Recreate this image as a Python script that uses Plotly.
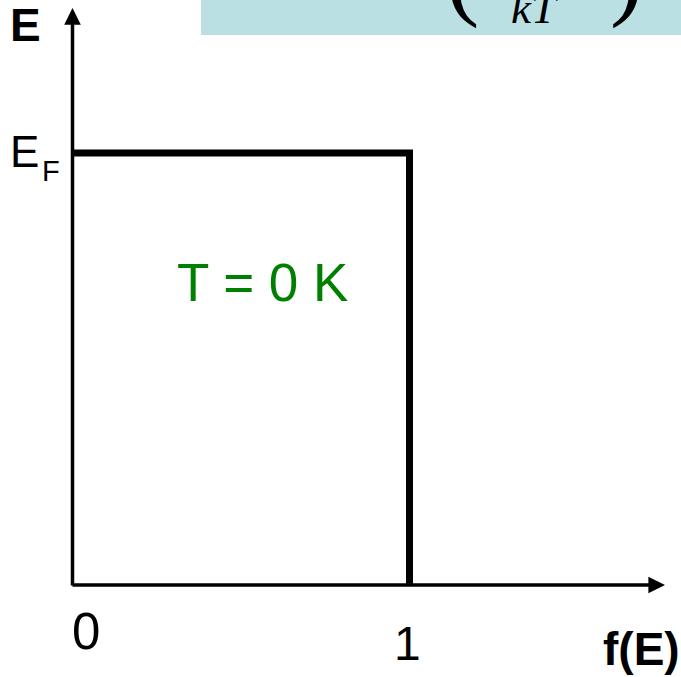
import plotly.graph_objects as go

# ---- data ----
f_values = [0, 1, 1]          # occupation probability f(E)
E_values = [1, 1, 0]          # energy in units of E_F (T = 0 K step)
x_tick_labels = ["0", "1"]
x_tick_values = [0, 1]
y_axis_label = "E"
x_axis_label = "f(E)"
fermi_label = "E"
fermi_sub = "F"
curve_label = "T = 0 K"

# ---- geometry (pixel mapping of the canvas) ----
W, H = 681, 677
X0_PX, X1_PX = 72.5, 409.5     # pixel of f=0 and f=1
Y0_PX, Y1_PX = 585.0, 153.0    # pixel of E=0 and E=E_F
sx = X1_PX - X0_PX
sy = Y0_PX - Y1_PX

def px(p):
    return (p - X0_PX) / sx

def py(p):
    return (Y0_PX - p) / sy

FONT = "Liberation Sans, Arial, sans-serif"
SERIF = "Liberation Serif, Times New Roman, serif"

fig = go.Figure()
fig.add_trace(go.Scatter(
    x=f_values, y=E_values, mode="lines",
    line=dict(color="black", width=7),
    hoverinfo="skip", showlegend=False,
))

# banner (clipped formula box at top)
fig.add_shape(type="rect", xref="paper", yref="paper",
              x0=201 / W, x1=1.02, y0=1 - 35 / H, y1=1.05,
              fillcolor="#BBE0E3", line=dict(width=0), layer="below")

ann = []
# axes arrows
ann.append(dict(x=0, y=py(8), ax=0, ay=py(587), xref="x", yref="y",
                axref="x", ayref="y", showarrow=True, arrowhead=2,
                arrowwidth=3.5, arrowsize=0.95, arrowcolor="black", text=""))
ann.append(dict(x=px(665), y=0, ax=px(71), ay=0, xref="x", yref="y",
                axref="x", ayref="y", showarrow=True, arrowhead=2,
                arrowwidth=3.5, arrowsize=0.95, arrowcolor="black", text=""))

def label(text, xc, yc, size, color="black", bold=False, family=FONT,
          italic=False, paper=False):
    t = text
    if bold:
        t = "<b>" + t + "</b>"
    if italic:
        t = "<i>" + t + "</i>"
    if paper:
        pos = dict(x=xc / W, y=1 - yc / H, xref="paper", yref="paper")
    else:
        pos = dict(x=px(xc), y=py(yc), xref="x", yref="y")
    ann.append(dict(text=t, showarrow=False, xanchor="center",
                    yanchor="middle",
                    font=dict(family=family, size=size, color=color), **pos))

label(y_axis_label, 25.5, 25, 46, bold=True)
label(fermi_label, 24.5, 151, 44)
label(fermi_sub, 50.5, 170.5, 29)
label(x_tick_labels[0], 85.5, 631.5, 51)
label(x_tick_labels[1], 407, 643, 48)
label(x_axis_label, 641, 649, 46, bold=True)
label(curve_label, 262.5, 282.5, 53, color="#008000")

# clipped formula pieces in banner
label("kT", 535, 8.5, 45, family=SERIF, italic=True, paper=True)
label("(", 462, -27, 100, family=SERIF, paper=True)
label(")", 626, -27, 100, family=SERIF, paper=True)

fig.update_layout(
    width=W, height=H, autosize=False,
    margin=dict(l=0, r=0, t=0, b=0),
    paper_bgcolor="white", plot_bgcolor="white",
    xaxis=dict(range=[px(0), px(W)], visible=False, fixedrange=True),
    yaxis=dict(range=[py(H), py(0)], visible=False, fixedrange=True),
    annotations=ann,
    showlegend=False,
)

fig.write_html(
    "out.html",
    config={"displayModeBar": False},
    post_script="document.body.style.margin='0';document.body.style.overflow='hidden';",
)
